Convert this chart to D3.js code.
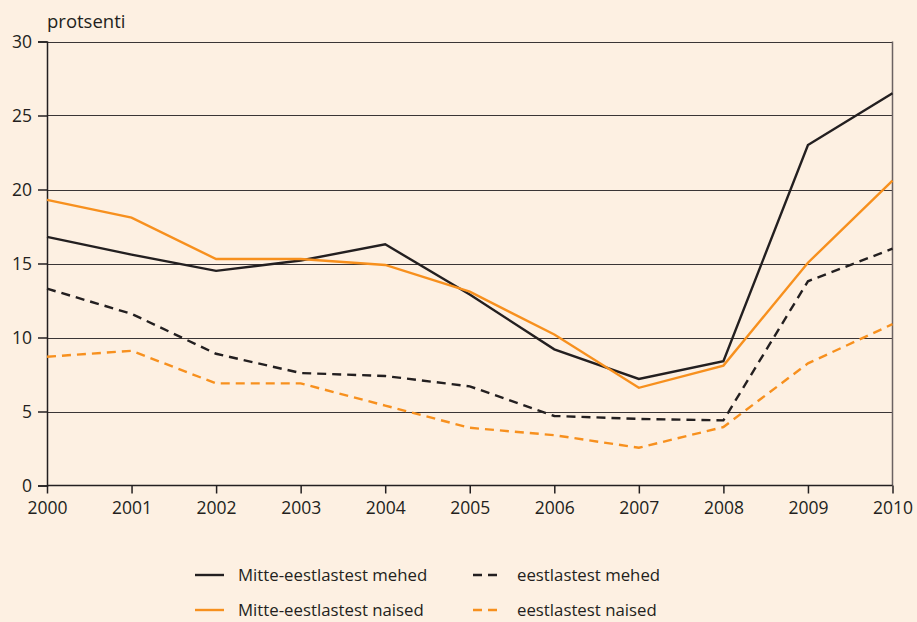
<!DOCTYPE html>
<html>
<head>
<meta charset="utf-8">
<script src="https://cdn.jsdelivr.net/npm/d3@7"></script>
<style>
  body { margin: 0; background: #fdf0e2; }
  svg { display: block; font-family: "Open Sans", sans-serif; }
</style>
</head>
<body>
<svg id="chart"></svg>
<script>
var years = [2000, 2001, 2002, 2003, 2004, 2005, 2006, 2007, 2008, 2009, 2010];
var yTicks = [0, 5, 10, 15, 20, 25, 30];

// protsenti
var mitteMehed  = [16.8, 15.6, 14.5, 15.2, 16.3, 12.9, 9.2, 7.2, 8.4, 23.0, 26.5];
var mitteNaised = [19.3, 18.1, 15.3, 15.3, 14.9, 13.1, 10.2, 6.6, 8.1, 15.05, 20.6];
var eestiMehed  = [13.3, 11.6, 8.9, 7.6, 7.4, 6.7, 4.7, 4.5, 4.4, 13.8, 16.0];
var eestiNaised = [8.7, 9.1, 6.9, 6.9, 5.4, 3.9, 3.4, 2.55, 3.95, 8.25, 10.9];

var seriesNames = ["Mitte-eestlastest mehed", "Mitte-eestlastest naised", "eestlastest mehed", "eestlastest naised"];

var black = "#231f20", orange = "#f7901e";

var series = [
    {name: seriesNames[0], values: mitteMehed, color: black, dash: null},
    {name: seriesNames[1], values: mitteNaised, color: orange, dash: null},
    {name: seriesNames[2], values: eestiMehed, color: black, dash: "9,6"},
    {name: seriesNames[3], values: eestiNaised, color: orange, dash: "9,6"}
];

const width = 917, height = 622;
const margin = {left: 47, right: 24.5, top: 41.5, bottom: 136.5};

var svg = d3.select("#chart")
    .attr("width", width)
    .attr("height", height);

svg.append("rect").attr("width", width).attr("height", height).attr("fill", "#fdf0e2");

const x = d3.scaleLinear()
    .domain([2000, 2010])
    .range([margin.left, width - margin.right]);

const y = d3.scaleLinear()
    .domain([0, 30])
    .range([height - margin.bottom, margin.top]);

// grid lines
svg.append("g")
    .selectAll("line")
    .data(yTicks.filter(d => d > 0))
    .join("line")
    .attr("x1", margin.left)
    .attr("x2", width - margin.right)
    .attr("y1", d => Math.round(y(d)) + 0.5)
    .attr("y2", d => Math.round(y(d)) + 0.5)
    .attr("stroke", "#3a3536")
    .attr("stroke-width", 1.1);

// right border
svg.append("line")
    .attr("x1", x(2010)).attr("x2", x(2010))
    .attr("y1", y(30)).attr("y2", y(0))
    .attr("stroke", "#6b6262")
    .attr("stroke-width", 1.5);

const yAxis = d3.axisLeft(y)
    .tickValues(yTicks)
    .tickSize(9)
    .tickPadding(6);

const xAxis = d3.axisBottom(x)
    .tickValues(years)
    .tickFormat(d3.format("d"))
    .tickSize(8)
    .tickPadding(8);

var gy = svg.append("g")
    .attr("transform", `translate(${margin.left},0)`)
    .call(yAxis);

var gx = svg.append("g")
    .attr("transform", `translate(0,${y(0)})`)
    .call(xAxis);

[gx, gy].forEach(g => {
    g.select(".domain").attr("stroke", black).attr("stroke-width", 1.5);
    g.selectAll(".tick line").attr("stroke", black).attr("stroke-width", 1.5);
    g.selectAll("text")
        .attr("fill", black)
        .style("font-size", "17.5px")
        .style("font-family", "'Open Sans', sans-serif");
});
gx.select(".domain").attr("d", `M${x(2000)},0H${x(2010)}`);

svg.append("text")
    .attr("x", 47)
    .attr("y", 28)
    .attr("fill", black)
    .style("font-size", "18.5px")
    .text("protsenti");

// lines
const line = d3.line()
    .x((d, i) => x(years[i]))
    .y(d => y(d));

svg.append("g")
    .selectAll("path")
    .data(series)
    .join("path")
    .attr("d", d => line(d.values))
    .attr("fill", "none")
    .attr("stroke", d => d.color)
    .attr("stroke-width", 2.4)
    .attr("stroke-dasharray", d => d.dash)
    .attr("stroke-linejoin", "miter");

// legend
var legendPos = [
    {x: 195, y: 581}, {x: 195, y: 616},
    {x: 473, y: 581}, {x: 473, y: 616}
];

var legend = svg.append("g")
    .selectAll("g")
    .data(series)
    .join("g")
    .attr("transform", (d, i) => `translate(${legendPos[i].x},${legendPos[i].y})`);

legend.append("line")
    .attr("x1", 0)
    .attr("x2", d => d.dash ? 24 : 29)
    .attr("y1", -6).attr("y2", -6)
    .attr("stroke", d => d.color)
    .attr("stroke-width", 2.4)
    .attr("stroke-dasharray", d => d.dash ? "9,6" : null);

legend.append("text")
    .attr("x", (d, i) => i < 2 ? 43 : 44)
    .attr("y", 0)
    .attr("fill", black)
    .style("font-size", "16.8px")
    .text(d => d.name);
</script>
</body>
</html>
